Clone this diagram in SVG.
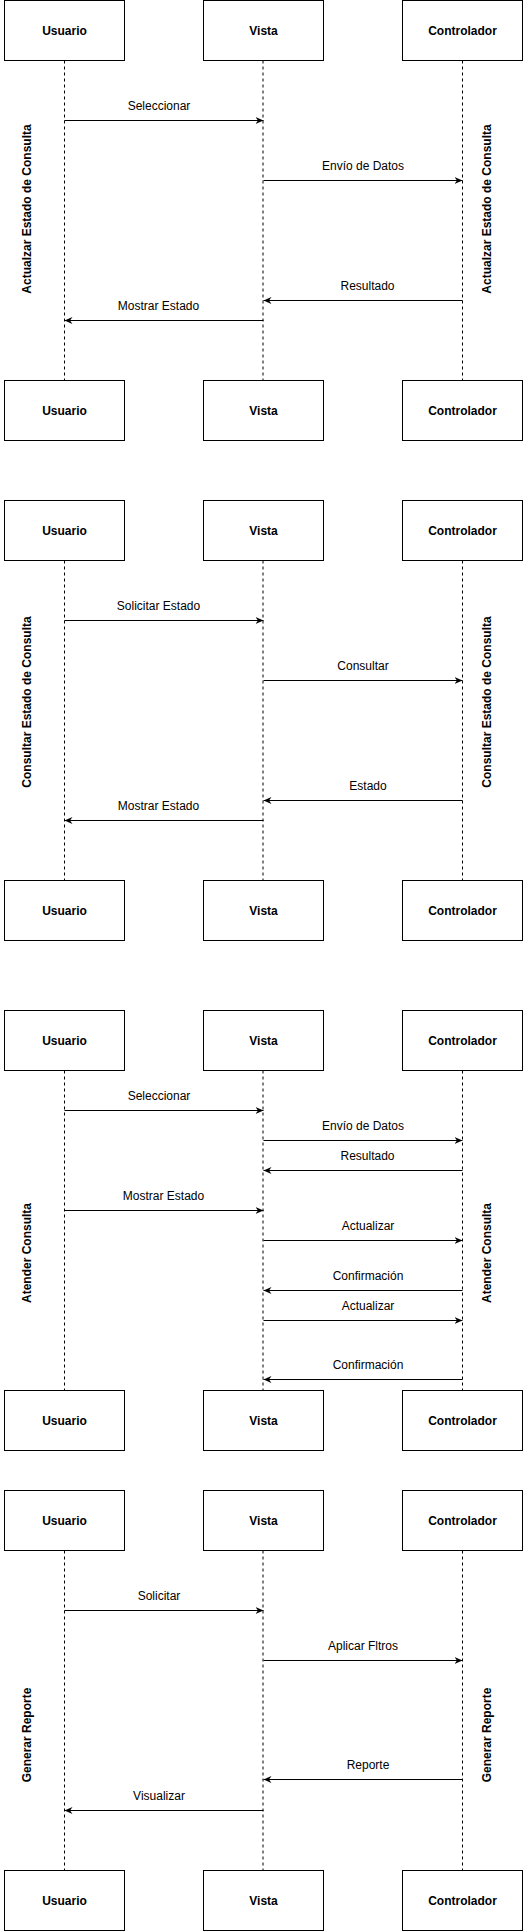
<svg xmlns="http://www.w3.org/2000/svg" width="525" height="1931" viewBox="0 0 525 1931">
<style>
.box{fill:#fff;stroke:#000;stroke-width:1}
.bt{font-family:"Liberation Sans",Arial,sans-serif;font-size:12px;font-weight:bold;text-anchor:middle;fill:#000}
.lt{font-family:"Liberation Sans",Arial,sans-serif;font-size:12px;text-anchor:middle;fill:#000}
.vt{font-family:"Liberation Sans",Arial,sans-serif;font-size:12px;font-weight:bold;text-anchor:middle;fill:#000}
.life{stroke:#000;stroke-width:1;stroke-dasharray:3 3;fill:none}
.msg{stroke:#000;stroke-width:1;fill:none;marker-end:url(#arr)}
</style>
<defs>
<marker id="arr" markerUnits="userSpaceOnUse" markerWidth="9" markerHeight="8" refX="8" refY="3.5" orient="auto">
<path d="M0,0 L8,3.5 L0,7 L2.5,3.5 Z" fill="#000"/>
</marker>
</defs>
<g id="lifelines">
<line class="life" x1="64.5" y1="60.5" x2="64.5" y2="380.5"/>
<line class="life" x1="263" y1="60.5" x2="263" y2="380.5"/>
<line class="life" x1="462.5" y1="60.5" x2="462.5" y2="380.5"/>
<line class="life" x1="64.5" y1="560.5" x2="64.5" y2="880.5"/>
<line class="life" x1="263" y1="560.5" x2="263" y2="880.5"/>
<line class="life" x1="462.5" y1="560.5" x2="462.5" y2="880.5"/>
<line class="life" x1="64.5" y1="1070.5" x2="64.5" y2="1390.5"/>
<line class="life" x1="263" y1="1070.5" x2="263" y2="1390.5"/>
<line class="life" x1="462.5" y1="1070.5" x2="462.5" y2="1390.5"/>
<line class="life" x1="64.5" y1="1550.5" x2="64.5" y2="1870.5"/>
<line class="life" x1="263" y1="1550.5" x2="263" y2="1870.5"/>
<line class="life" x1="462.5" y1="1550.5" x2="462.5" y2="1870.5"/>
</g>
<g id="s1-usuario-top"><rect class="box" x="4.5" y="0.5" width="120" height="60"/><text class="bt" x="64.5" y="34.5">Usuario</text></g>
<g id="s1-vista-top"><rect class="box" x="203.5" y="0.5" width="120" height="60"/><text class="bt" x="263.5" y="34.5">Vista</text></g>
<g id="s1-controlador-top"><rect class="box" x="402.5" y="0.5" width="120" height="60"/><text class="bt" x="462.5" y="34.5">Controlador</text></g>
<g id="s1-usuario-bottom"><rect class="box" x="4.5" y="380.5" width="120" height="60"/><text class="bt" x="64.5" y="414.5">Usuario</text></g>
<g id="s1-vista-bottom"><rect class="box" x="203.5" y="380.5" width="120" height="60"/><text class="bt" x="263.5" y="414.5">Vista</text></g>
<g id="s1-controlador-bottom"><rect class="box" x="402.5" y="380.5" width="120" height="60"/><text class="bt" x="462.5" y="414.5">Controlador</text></g>
<g id="s1-label-left"><text class="vt" x="27" y="213" transform="rotate(-90 27 209)">Actualzar Estado de Consulta</text></g>
<g id="s1-label-right"><text class="vt" x="487" y="213" transform="rotate(-90 487 209)">Actualzar Estado de Consulta</text></g>

<g id="s2-usuario-top"><rect class="box" x="4.5" y="500.5" width="120" height="60"/><text class="bt" x="64.5" y="534.5">Usuario</text></g>
<g id="s2-vista-top"><rect class="box" x="203.5" y="500.5" width="120" height="60"/><text class="bt" x="263.5" y="534.5">Vista</text></g>
<g id="s2-controlador-top"><rect class="box" x="402.5" y="500.5" width="120" height="60"/><text class="bt" x="462.5" y="534.5">Controlador</text></g>
<g id="s2-usuario-bottom"><rect class="box" x="4.5" y="880.5" width="120" height="60"/><text class="bt" x="64.5" y="914.5">Usuario</text></g>
<g id="s2-vista-bottom"><rect class="box" x="203.5" y="880.5" width="120" height="60"/><text class="bt" x="263.5" y="914.5">Vista</text></g>
<g id="s2-controlador-bottom"><rect class="box" x="402.5" y="880.5" width="120" height="60"/><text class="bt" x="462.5" y="914.5">Controlador</text></g>
<g id="s2-label-left"><text class="vt" x="27" y="706" transform="rotate(-90 27 702)">Consultar Estado de Consulta</text></g>
<g id="s2-label-right"><text class="vt" x="487" y="706" transform="rotate(-90 487 702)">Consultar Estado de Consulta</text></g>

<g id="s3-usuario-top"><rect class="box" x="4.5" y="1010.5" width="120" height="60"/><text class="bt" x="64.5" y="1044.5">Usuario</text></g>
<g id="s3-vista-top"><rect class="box" x="203.5" y="1010.5" width="120" height="60"/><text class="bt" x="263.5" y="1044.5">Vista</text></g>
<g id="s3-controlador-top"><rect class="box" x="402.5" y="1010.5" width="120" height="60"/><text class="bt" x="462.5" y="1044.5">Controlador</text></g>
<g id="s3-usuario-bottom"><rect class="box" x="4.5" y="1390.5" width="120" height="60"/><text class="bt" x="64.5" y="1424.5">Usuario</text></g>
<g id="s3-vista-bottom"><rect class="box" x="203.5" y="1390.5" width="120" height="60"/><text class="bt" x="263.5" y="1424.5">Vista</text></g>
<g id="s3-controlador-bottom"><rect class="box" x="402.5" y="1390.5" width="120" height="60"/><text class="bt" x="462.5" y="1424.5">Controlador</text></g>
<g id="s3-label-left"><text class="vt" x="27" y="1257" transform="rotate(-90 27 1253)">Atender Consulta</text></g>
<g id="s3-label-right"><text class="vt" x="487" y="1257" transform="rotate(-90 487 1253)">Atender Consulta</text></g>

<g id="s4-usuario-top"><rect class="box" x="4.5" y="1490.5" width="120" height="60"/><text class="bt" x="64.5" y="1524.5">Usuario</text></g>
<g id="s4-vista-top"><rect class="box" x="203.5" y="1490.5" width="120" height="60"/><text class="bt" x="263.5" y="1524.5">Vista</text></g>
<g id="s4-controlador-top"><rect class="box" x="402.5" y="1490.5" width="120" height="60"/><text class="bt" x="462.5" y="1524.5">Controlador</text></g>
<g id="s4-usuario-bottom"><rect class="box" x="4.5" y="1870.5" width="120" height="60"/><text class="bt" x="64.5" y="1904.5">Usuario</text></g>
<g id="s4-vista-bottom"><rect class="box" x="203.5" y="1870.5" width="120" height="60"/><text class="bt" x="263.5" y="1904.5">Vista</text></g>
<g id="s4-controlador-bottom"><rect class="box" x="402.5" y="1870.5" width="120" height="60"/><text class="bt" x="462.5" y="1904.5">Controlador</text></g>
<g id="s4-label-left"><text class="vt" x="27" y="1739" transform="rotate(-90 27 1735)">Generar Reporte</text></g>
<g id="s4-label-right"><text class="vt" x="487" y="1739" transform="rotate(-90 487 1735)">Generar Reporte</text></g>

<g id="connectors">
<line class="msg" x1="64.5" y1="120.5" x2="263.5" y2="120.5"/><text class="lt" x="159" y="109.5">Seleccionar</text>
<line class="msg" x1="263.5" y1="180.5" x2="462.5" y2="180.5"/><text class="lt" x="363" y="169.5">Envío de Datos</text>
<line class="msg" x1="462.5" y1="300.5" x2="263.5" y2="300.5"/><text class="lt" x="367.5" y="289.5">Resultado</text>
<line class="msg" x1="263.5" y1="320.5" x2="64.5" y2="320.5"/><text class="lt" x="158.5" y="309.5">Mostrar Estado</text>

<line class="msg" x1="64.5" y1="620.5" x2="263.5" y2="620.5"/><text class="lt" x="158.5" y="609.5">Solicitar Estado</text>
<line class="msg" x1="263.5" y1="680.5" x2="462.5" y2="680.5"/><text class="lt" x="363" y="669.5">Consultar</text>
<line class="msg" x1="462.5" y1="800.5" x2="263.5" y2="800.5"/><text class="lt" x="368" y="789.5">Estado</text>
<line class="msg" x1="263.5" y1="820.5" x2="64.5" y2="820.5"/><text class="lt" x="158.5" y="809.5">Mostrar Estado</text>

<line class="msg" x1="64.5" y1="1110.5" x2="263.5" y2="1110.5"/><text class="lt" x="159" y="1099.5">Seleccionar</text>
<line class="msg" x1="263.5" y1="1140.5" x2="462.5" y2="1140.5"/><text class="lt" x="363" y="1129.5">Envío de Datos</text>
<line class="msg" x1="462.5" y1="1170.5" x2="263.5" y2="1170.5"/><text class="lt" x="367.5" y="1159.5">Resultado</text>
<line class="msg" x1="64.5" y1="1210.5" x2="263.5" y2="1210.5"/><text class="lt" x="163.5" y="1199.5">Mostrar Estado</text>
<line class="msg" x1="263.5" y1="1240.5" x2="462.5" y2="1240.5"/><text class="lt" x="368" y="1229.5">Actualizar</text>
<line class="msg" x1="462.5" y1="1290.5" x2="263.5" y2="1290.5"/><text class="lt" x="368" y="1279.5">Confirmación</text>
<line class="msg" x1="263.5" y1="1320.5" x2="462.5" y2="1320.5"/><text class="lt" x="368" y="1309.5">Actualizar</text>
<line class="msg" x1="462.5" y1="1379.5" x2="263.5" y2="1379.5"/><text class="lt" x="368" y="1368.5">Confirmación</text>

<line class="msg" x1="64.5" y1="1610.5" x2="263.5" y2="1610.5"/><text class="lt" x="159" y="1599.5">Solicitar</text>
<line class="msg" x1="263.5" y1="1660.5" x2="462.5" y2="1660.5"/><text class="lt" x="363" y="1649.5">Aplicar Fltros</text>
<line class="msg" x1="462.5" y1="1779.5" x2="263.5" y2="1779.5"/><text class="lt" x="368" y="1768.5">Reporte</text>
<line class="msg" x1="263.5" y1="1810.5" x2="64.5" y2="1810.5"/><text class="lt" x="159" y="1799.5">Visualizar</text>
</g>
</svg>
